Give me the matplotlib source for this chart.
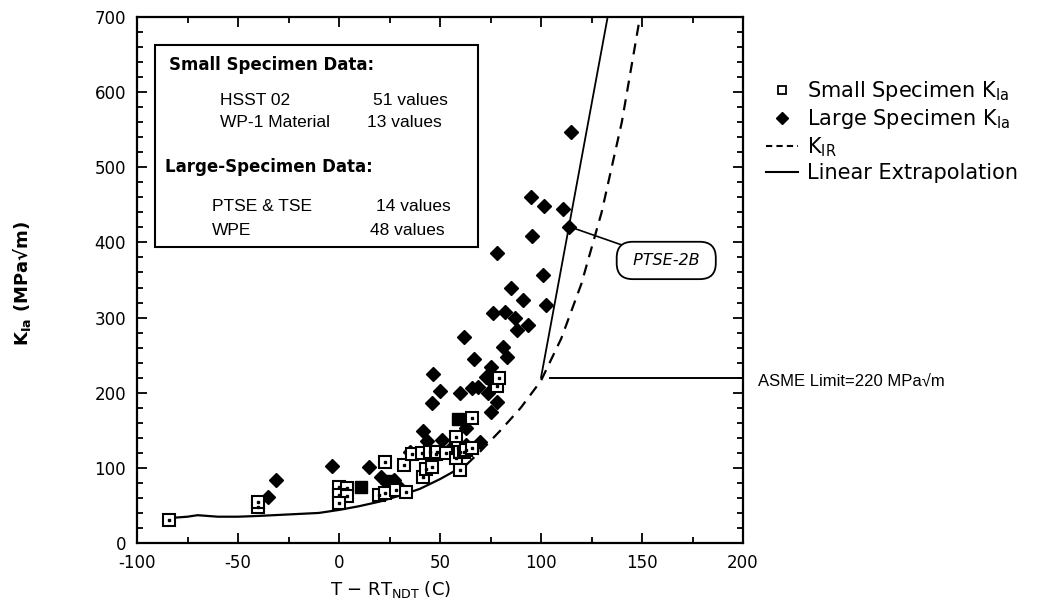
import matplotlib
matplotlib.use("Agg")
import matplotlib.pyplot as plt
from matplotlib.lines import Line2D
from matplotlib.patches import Rectangle
from matplotlib.ticker import MultipleLocator

plt.rcParams['font.family'] = ['DejaVu Sans']
plt.rcParams['mathtext.default'] = 'regular'

# ---------------- data ----------------
small_x = [-84, -40, -40, 0, 4, 0, 4, 0, 20, 23, 23, 28, 32, 33, 36, 41, 41.6, 43, 46, 45,
           48, 48.5, 53, 58, 58, 59, 60, 60, 62, 63, 66, 66, 78, 79]
small_y = [31, 48, 55, 75, 73, 64, 62, 53, 64, 66, 108, 70, 104, 68, 118, 120, 88, 98, 101, 121,
           118, 121, 120, 141, 113, 126, 121, 97, 121, 124, 126, 166, 209, 220]

solid_sq_x = [11, 59, 25]
solid_sq_y = [75, 165, 82]

large_x = [-35, -31, -3.5, 15, 21, 24, 27, 29, 35, 41.6, 43.5, 46, 46.5, 50, 51, 56, 60, 61, 62,
           63, 63, 66, 67, 69, 70, 73, 74, 75, 75, 76, 76, 78, 78, 81, 82, 83, 85, 87, 88, 91,
           93.5, 95.5, 95, 101, 101.5, 102.5, 111, 114, 115]
large_y = [61, 84, 103, 101, 88, 80, 84, 76, 121, 149, 136, 186, 225, 202, 137, 128, 200, 164, 274,
           130, 153, 206, 245, 208, 135, 221, 200, 234, 174, 213, 306, 188, 386, 261, 307, 248, 339,
           299, 283, 323, 290, 409, 461, 357, 449, 317, 445, 421, 547]

# lower-bound curve: solid portion and dashed K_IR portion
lower_solid_x = [-85, -75, -70, -60, -50, -40, -25, -10, 0, 10, 20, 30, 40, 50, 60, 63]
lower_solid_y = [33, 35, 37, 35, 35, 36, 38, 40, 44, 49, 55, 63, 72, 85, 100, 104]
kir_x = [63, 70, 80, 90, 100, 110, 120, 130, 140, 149]
kir_y = [104, 122, 150, 180, 216, 272, 345, 440, 560, 700]

lin_x = [100, 133]
lin_y = [220, 700]

asme_limit = 220
asme_x = [104.5, 200]

ptse_point = (114, 421)
ptse_label_pos = (162, 376)

xticks = [-100, -50, 0, 50, 100, 150, 200]
xticklabels = ['-100', '-50', '0', '50', '100', '150', '200']
yticks = [0, 100, 200, 300, 400, 500, 600, 700]

# ---------------- figure ----------------
fig = plt.figure(figsize=(10.5, 6.13), dpi=100)
ax = fig.add_axes([137/1050, 1-543/613, 606/1050, 526/613])
ax.set_xlim(-100, 200)
ax.set_ylim(0, 700)

# curves
ax.plot(lower_solid_x, lower_solid_y, color='black', lw=1.6, solid_capstyle='butt')
ax.plot(kir_x, kir_y, color='black', lw=1.6, ls=(0, (5, 3.5)))
ax.plot(lin_x, lin_y, color='black', lw=1.3)
ax.plot(asme_x, [asme_limit, asme_limit], color='black', lw=1.4)

# markers
ax.plot(large_x, large_y, ls='none', marker='D', ms=7.5, mfc='black', mec='black', zorder=3)
ax.plot(solid_sq_x, solid_sq_y, ls='none', marker='s', ms=8, mfc='black', mec='black', zorder=3)
ax.plot(small_x, small_y, ls='none', marker='s', ms=8, mfc='white', mec='black', mew=1.5, zorder=4)
ax.plot(small_x, small_y, ls='none', marker='s', ms=2, mfc='black', mec='black', zorder=5)

# ticks
ax.set_xticks(xticks)
ax.set_xticklabels(xticklabels)
ax.set_yticks(yticks)
ax.xaxis.set_minor_locator(MultipleLocator(25))
ax.yaxis.set_minor_locator(MultipleLocator(20))
ax.tick_params(which='both', direction='in', top=True, right=True, width=1.3, labelsize=12)
ax.tick_params(which='major', length=7, pad=8)
ax.tick_params(which='minor', length=4)
for s in ax.spines.values():
    s.set_linewidth(1.6)

# inset box
reg = dict(transform=ax.transAxes, fontsize=12.5, va='center', ha='left', family='Liberation Sans')
ax.text(0.052, 0.909, 'Small Specimen Data:', transform=ax.transAxes, fontsize=12,
        fontweight='bold', va='center', ha='left')
ax.text(0.137, 0.842, 'HSST 02', **reg)
ax.text(0.389, 0.842, '51 values', **reg)
ax.text(0.137, 0.800, 'WP-1 Material', **reg)
ax.text(0.380, 0.800, '13 values', **reg)
ax.text(0.046, 0.715, 'Large-Specimen Data:', transform=ax.transAxes, fontsize=12,
        fontweight='bold', va='center', ha='left')
ax.text(0.124, 0.640, 'PTSE & TSE', **reg)
ax.text(0.394, 0.640, '14 values', **reg)
ax.text(0.124, 0.595, 'WPE', **reg)
ax.text(0.384, 0.595, '48 values', **reg)
ax.add_patch(Rectangle((0.030, 0.563), 0.533, 0.384, transform=ax.transAxes, fill=False,
                       lw=1.5, ec='black', zorder=2))

# PTSE-2B annotation
ax.annotate(' PTSE-2B ', xy=ptse_point, xytext=ptse_label_pos, fontsize=11.5, style='italic',
            ha='center', va='center',
            bbox=dict(boxstyle='round,pad=0.7,rounding_size=1.0', fc='white', ec='black', lw=1.3),
            arrowprops=dict(arrowstyle='-', color='black', lw=1.2, shrinkA=0, shrinkB=0))

# ASME label outside the axes
ax.text(1.025, asme_limit - 4, 'ASME Limit=220 MPa\u221am', transform=ax.get_yaxis_transform(),
        fontsize=12, va='center', ha='left', family='Liberation Sans')

# legend
handles = [
    Line2D([], [], ls='none', marker='s', ms=6, mfc='white', mec='black', mew=1.3),
    Line2D([], [], ls='none', marker='D', ms=6, mfc='black', mec='black'),
    Line2D([], [], color='black', lw=1.5, ls=(0, (3, 2))),
    Line2D([], [], color='black', lw=1.5),
]
labels = ['Small Specimen K$_{Ia}$', 'Large Specimen K$_{Ia}$', 'K$_{IR}$', 'Linear Extrapolation']
ax.legend(handles, labels, loc='upper left', bbox_to_anchor=(1.025, 0.898), frameon=False,
          fontsize=15, handlelength=1.5, handletextpad=0.45, labelspacing=0.2, borderaxespad=0)

fig.text(391/1050, 1-590/613, 'T \u2212 RT$_{NDT}$ (C)', fontsize=13, ha='center', va='center')
fig.text(22/1050, 1-283/613, 'K$_{Ia}$ (MPa\u221am)', fontsize=13, fontweight='bold',
         ha='center', va='center', rotation=90)

fig.savefig('out.png', dpi=100, facecolor='white')
